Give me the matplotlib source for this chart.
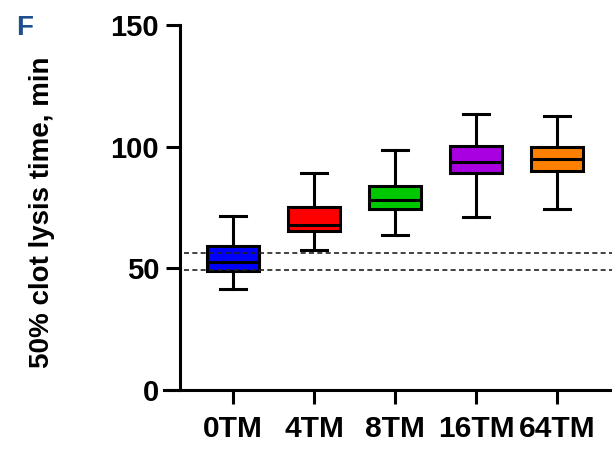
import matplotlib.pyplot as plt

plt.rcParams['font.family'] = ['Liberation Sans', 'DejaVu Sans']
plt.rcParams['font.weight'] = 'bold'

groups = ['0TM', '4TM', '8TM', '16TM', '64TM']
colors = ['#0000ff', '#ff0000', '#00c800', '#a800e0', '#ff8000']
whislo = [41.5, 57.5, 63.7, 71.1, 74.4]
q1 = [49.0, 65.5, 74.4, 89.2, 90.0]
med = [52.6, 68.0, 78.0, 93.7, 95.0]
q3 = [59.2, 75.0, 84.0, 100.3, 99.9]
whishi = [71.5, 89.0, 98.6, 113.4, 112.6]
ref_lines = [56.5, 49.5]

stats = []
for i, g in enumerate(groups):
    stats.append(dict(label=g, whislo=whislo[i], q1=q1[i], med=med[i],
                      q3=q3[i], whishi=whishi[i], fliers=[]))

fig = plt.figure(figsize=(6.12, 4.49), dpi=100)
ax = fig.add_axes([164 / 612, 59 / 449, 448 / 612, 365 / 449])

lw = 2.2
bp = ax.bxp(stats, positions=range(len(groups)), widths=0.65,
            patch_artist=True, showfliers=False,
            boxprops=dict(linewidth=lw, edgecolor='black'),
            medianprops=dict(color='black', linewidth=lw),
            whiskerprops=dict(color='black', linewidth=lw),
            capprops=dict(color='black', linewidth=lw),
            capwidths=0.32)
for patch, c in zip(bp['boxes'], colors):
    patch.set_facecolor(c)

spine_pos = 16 / 448
for y in ref_lines:
    ax.axhline(y, xmin=spine_pos + 0.01, xmax=1, color='#222222',
               linestyle=(0, (3, 2)), linewidth=1.2, zorder=5)

ax.set_xlim(-0.852, 4.679)
ax.set_ylim(0, 150)
ax.set_yticks([0, 50, 100, 150])
ax.spines['top'].set_visible(False)
ax.spines['right'].set_visible(False)
ax.spines['left'].set_position(('axes', spine_pos))
ax.spines['left'].set_linewidth(lw)
ax.spines['bottom'].set_linewidth(lw)
ax.tick_params(axis='y', width=lw, length=10, labelsize=21, pad=5)
ax.tick_params(axis='x', width=lw, length=10, labelsize=21.5, pad=8)
for lab in ax.get_xticklabels() + ax.get_yticklabels():
    lab.set_fontweight('bold')

ax.set_ylabel('50% clot lysis time, min', fontsize=20, fontweight='bold')
ax.yaxis.set_label_coords(-0.243, 0.488)

fig.text(0.027, 0.922, 'F', fontsize=20, fontweight='bold', color='#1f4e8c')

fig.savefig('out.png', dpi=100)
